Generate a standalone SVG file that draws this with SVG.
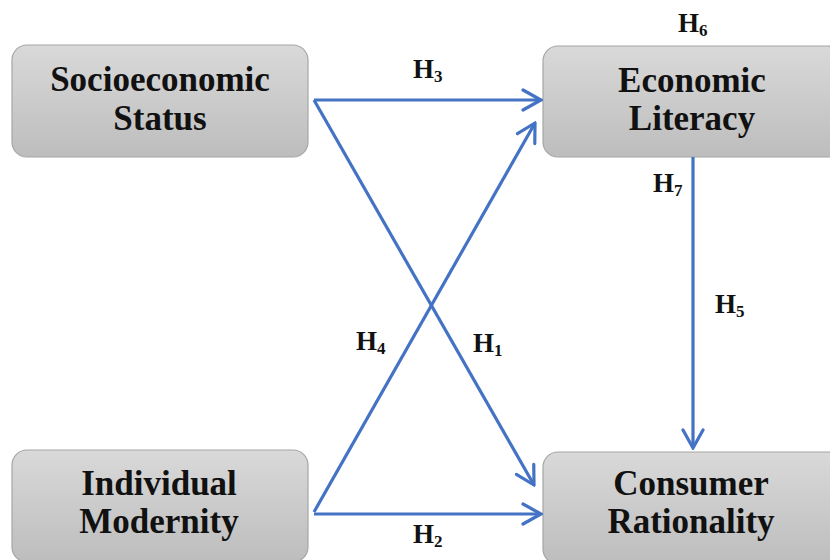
<svg xmlns="http://www.w3.org/2000/svg" width="830" height="560" viewBox="0 0 830 560">
<defs>
<linearGradient id="g" x1="0" y1="0" x2="0" y2="1">
<stop offset="0" stop-color="#d9d9d9"/>
<stop offset="1" stop-color="#bdbdbd"/>
</linearGradient>
<marker id="ah" viewBox="0 0 22 24" refX="20" refY="12" markerWidth="22" markerHeight="24" markerUnits="userSpaceOnUse" orient="auto">
<path d="M2,2 L20,12 L2,22" fill="none" stroke="#4472C4" stroke-width="3.2" stroke-linecap="round" stroke-linejoin="miter"/>
</marker>
</defs>
<style>
.box{fill:url(#g);stroke:#a6a6a6;stroke-width:1.2}
.nt{font-family:'Liberation Serif','DejaVu Serif','Times New Roman',Times,serif;font-weight:700;font-size:35px;fill:#111;text-anchor:middle}
.lb{font-family:'Liberation Serif','DejaVu Serif','Times New Roman',Times,serif;font-weight:700;font-size:27px;fill:#111}
.sub{font-size:17px}
.c{fill:none;stroke:#4472C4;stroke-width:3.2;marker-end:url(#ah)}
</style>
<rect width="830" height="560" fill="#ffffff"/>
<g id="node-socio">
<rect class="box" x="12" y="45" width="296" height="112" rx="15"/>
<text class="nt" x="160" y="91">Socioeconomic</text>
<text class="nt" x="160" y="130">Status</text>
</g>
<g id="node-econ">
<rect class="box" x="543" y="46" width="300" height="111" rx="15"/>
<text class="nt" x="692" y="92">Economic</text>
<text class="nt" x="692" y="130">Literacy</text>
</g>
<g id="node-indiv">
<rect class="box" x="12" y="450" width="296" height="112" rx="15"/>
<text class="nt" x="159" y="495">Individual</text>
<text class="nt" x="159" y="533">Modernity</text>
</g>
<g id="node-consumer">
<rect class="box" x="543" y="452" width="300" height="112" rx="15"/>
<text class="nt" x="691" y="495">Consumer</text>
<text class="nt" x="691" y="533">Rationality</text>
</g>
<g id="connectors">
<line class="c" x1="314" y1="100" x2="541" y2="100"/>
<line class="c" x1="314" y1="100" x2="534" y2="485"/>
<line class="c" x1="314" y1="512" x2="535" y2="123"/>
<line class="c" x1="314" y1="514" x2="541" y2="514"/>
<line class="c" x1="693" y1="157" x2="693" y2="448"/>
</g>
<g id="labels">
<text class="lb" x="413" y="78">H<tspan class="sub" dy="4">3</tspan></text>
<text class="lb" x="678" y="32">H<tspan class="sub" dy="4">6</tspan></text>
<text class="lb" x="653" y="192">H<tspan class="sub" dy="4">7</tspan></text>
<text class="lb" x="715" y="313">H<tspan class="sub" dy="4">5</tspan></text>
<text class="lb" x="356" y="350">H<tspan class="sub" dy="4">4</tspan></text>
<text class="lb" x="473" y="352">H<tspan class="sub" dy="4">1</tspan></text>
<text class="lb" x="413" y="543">H<tspan class="sub" dy="4">2</tspan></text>
</g>
</svg>
